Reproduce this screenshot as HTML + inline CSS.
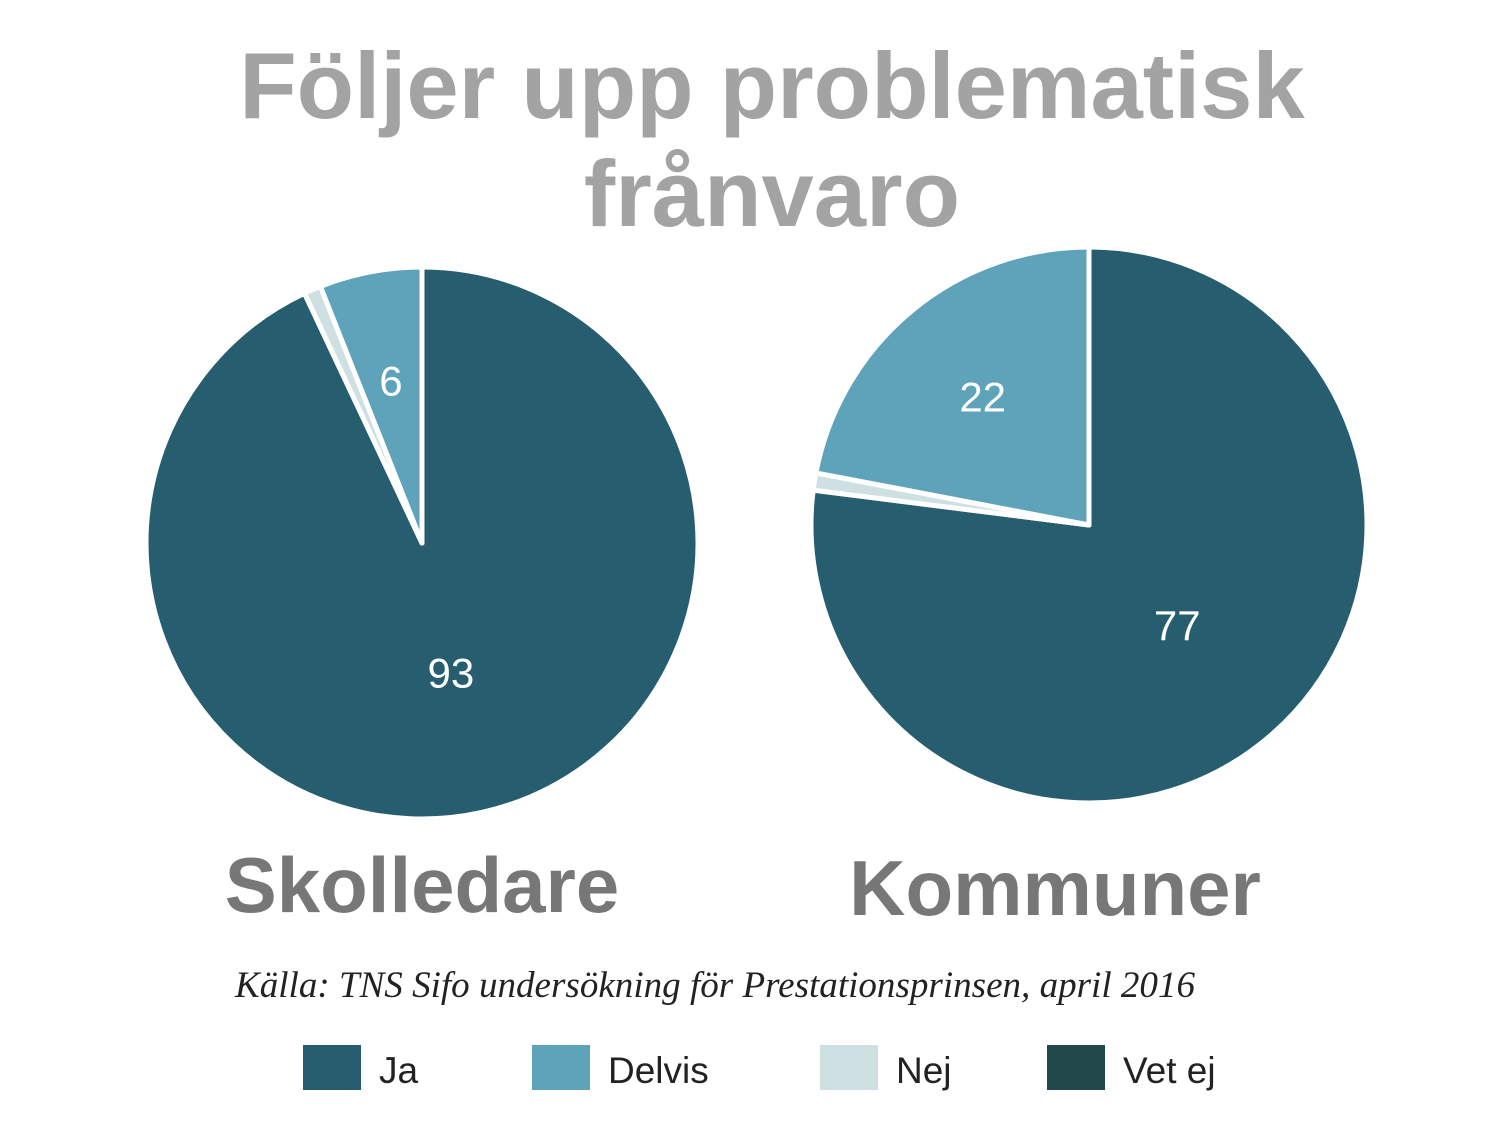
<!DOCTYPE html>
<html><head><meta charset="utf-8">
<style>
html,body{margin:0;padding:0;background:#fff;}
body{width:1500px;height:1116px;overflow:hidden;position:relative;}
</style></head>
<body>
<svg width="1500" height="1116" viewBox="0 0 1500 1116" xmlns="http://www.w3.org/2000/svg">
<g font-family="Liberation Sans, Arial, sans-serif" font-weight="bold" fill="#a3a3a3" font-size="94" text-anchor="middle">
<text x="772" y="118">Följer upp problematisk</text>
<text x="772" y="226">frånvaro</text>
</g>
<g id="pies"></g>
<text x="422" y="912" text-anchor="middle" font-family="Liberation Sans, Arial, sans-serif" font-weight="bold" font-size="78" fill="#777">Skolledare</text>
<text x="1055" y="915" text-anchor="middle" font-family="Liberation Sans, Arial, sans-serif" font-weight="bold" font-size="78" fill="#777">Kommuner</text>
<text x="235" y="997" font-family="Liberation Serif, serif" font-style="italic" font-size="37" fill="#222" textLength="960" lengthAdjust="spacingAndGlyphs">Källa: TNS Sifo undersökning för Prestationsprinsen, april 2016</text>
<g id="legend"></g>
</svg>
<script>
const categories = ["Ja","Delvis","Nej","Vet ej"];
const colors = ["#275e6f","#5fa3bb","#cfe0e3","#22484c"];
const skolledareValues = [93, 1, 6];   // Ja, (Nej), Delvis order around the pie
const kommunerValues = [77, 1, 22];
const sliceCats = [0, 2, 1];
const NS="http://www.w3.org/2000/svg";
const pies=document.getElementById('pies');
function pt(cx,cy,r,f){const a=f*2*Math.PI;return [cx+r*Math.sin(a),cy-r*Math.cos(a)];}
function drawPie(name,values,cx,cy,r){
  const g=document.createElementNS(NS,'g');
  
  
  pies.appendChild(g);
  const total=100;let acc=0;
  values.forEach((v,i)=>{
    const f0=acc/total,f1=(acc+v)/total;acc+=v;
    const p0=pt(cx,cy,r,f0),p1=pt(cx,cy,r,f1);
    const large=(f1-f0)>0.5?1:0;
    const path=document.createElementNS(NS,'path');
    path.setAttribute('d',`M${cx},${cy} L${p0[0]},${p0[1]} A${r},${r} 0 ${large} 1 ${p1[0]},${p1[1]} Z`);
    path.setAttribute('fill',colors[sliceCats[i]]);
    path.setAttribute('stroke','#fff');
    path.setAttribute('stroke-width','5');
    path.setAttribute('stroke-linejoin','round');
    
    
    g.appendChild(path);
    if(v>=3){
      const lr=v>50?0.48:0.6;
      const lp=pt(cx,cy,r*lr,(f0+f1)/2);
      const t=document.createElementNS(NS,'text');
      t.setAttribute('x',lp[0]);t.setAttribute('y',lp[1]+15);
      t.setAttribute('text-anchor','middle');
      t.setAttribute('font-family','Liberation Sans, Arial, sans-serif');
      t.setAttribute('font-size','42');t.setAttribute('fill','#fff');
      t.textContent=v;
      
      
      g.appendChild(t);
    }
  });
}
drawPie('pie-skolledare',skolledareValues,422,543,276);
drawPie('pie-kommuner',kommunerValues,1089,525,278);
const legend=document.getElementById('legend');
const lx=[303,532,820,1047];
categories.forEach((c,i)=>{
  const r=document.createElementNS(NS,'rect');
  r.setAttribute('x',lx[i]);r.setAttribute('y',1045);r.setAttribute('width',58);r.setAttribute('height',45);
  r.setAttribute('fill',colors[i]);
  
  
  legend.appendChild(r);
  const t=document.createElementNS(NS,'text');
  t.setAttribute('x',lx[i]+76);t.setAttribute('y',1083);
  t.setAttribute('font-family','Liberation Sans, Arial, sans-serif');
  t.setAttribute('font-size','37');t.setAttribute('fill','#222');
  t.textContent=c;
  
  
  legend.appendChild(t);
});
</script>
</body></html>
